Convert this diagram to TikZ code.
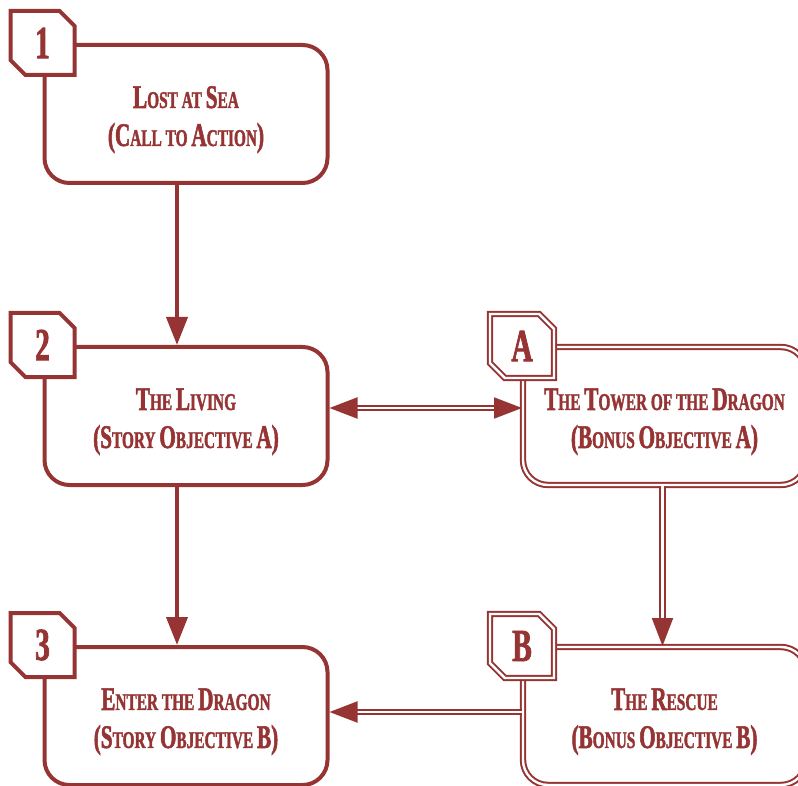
\documentclass[tikz,border=0pt]{standalone}
\usepackage{fontspec}
\newfontfamily\dfont{Liberation Serif}[FakeStretch=0.64, BoldFeatures={FakeBold=1.6}]
\usetikzlibrary{arrows.meta,shapes.misc}
\definecolor{dred}{RGB}{150,52,52}
\newcommand\BC[1]{{\fontsize{33}{38}\selectfont #1}}
\newcommand\upstrut{\rule{0pt}{33pt}}
\begin{document}
\begin{tikzpicture}[x=1pt,y=-1pt,
 box/.style={rectangle, rounded corners=25pt, minimum width=283pt, minimum height=138pt, draw=dred, line width=4pt, fill=white, inner sep=0pt, font=\dfont\bfseries\fontsize{24}{38}\selectfont, text=dred, align=center},
 bonus/.style={box, line width=2pt, double=white, double distance=2.4pt},
 tag/.style={chamfered rectangle, chamfered rectangle corners={north east,south west}, chamfered rectangle xsep=12pt, minimum width=64pt, minimum height=64pt, inner sep=0pt, draw=dred, line width=4pt, fill=white, text=dred, font=\dfont\bfseries\fontsize{46}{46}\selectfont},
 bonustag/.style={tag, line width=2pt, double=white, double distance=2.4pt},
 link/.style={draw=dred, line width=4pt, -{Triangle[length=28pt,width=21pt]}},
 dlink/.style={draw=dred, line width=2pt, double=white, double distance=2.2pt, -{Triangle[length=28pt,width=21pt]}},
]
\useasboundingbox (0,0) rectangle (798,786);
\clip (0,0) rectangle (798,786);

\node[box] (b1) at (186,114) {\upstrut\BC{L}OST AT \BC{S}EA\\\BC{(C}ALL TO \BC{A}CTION\BC{)}};
\node[box] (b2) at (186,416) {\upstrut\BC{T}HE \BC{L}IVING\\\BC{(S}TORY \BC{O}BJECTIVE \BC{A)}};
\node[box] (b3) at (186,716) {\upstrut\BC{E}NTER THE \BC{D}RAGON\\\BC{(S}TORY \BC{O}BJECTIVE \BC{B)}};
\node[bonus] (bA) at (664.5,416) {\upstrut\BC{T}HE \BC{T}OWER OF THE \BC{D}RAGON\\\BC{(B}ONUS \BC{O}BJECTIVE \BC{A)}};
\node[bonus] (bB) at (664.5,716) {\upstrut\BC{T}HE \BC{R}ESCUE\\\BC{(B}ONUS \BC{O}BJECTIVE \BC{B)}};

\node[tag] (t1) at (b1.north west) {1};
\node[tag] (t2) at (b2.north west) {2};
\node[tag] (t3) at (b3.north west) {3};
\node[bonustag] (tA) at (bA.north west) {A};
\node[bonustag] (tB) at (bB.north west) {B};

\draw[link] ([xshift=-9pt]b1.south) -- ([xshift=-9pt]b2.north);
\draw[link] ([xshift=-9pt]b2.south) -- ([xshift=-9pt]b3.north);
\draw[dlink, {Triangle[length=28pt,width=21pt]}-{Triangle[length=28pt,width=21pt]}] ([yshift=8pt]b2.east) -- ([yshift=8pt]bA.west);
\draw[dlink] ([xshift=-2pt]bA.south) -- ([xshift=-2pt]bB.north);
\draw[dlink] ([yshift=4pt]bB.west) -- ([yshift=4pt]b3.east);
\end{tikzpicture}
\end{document}
